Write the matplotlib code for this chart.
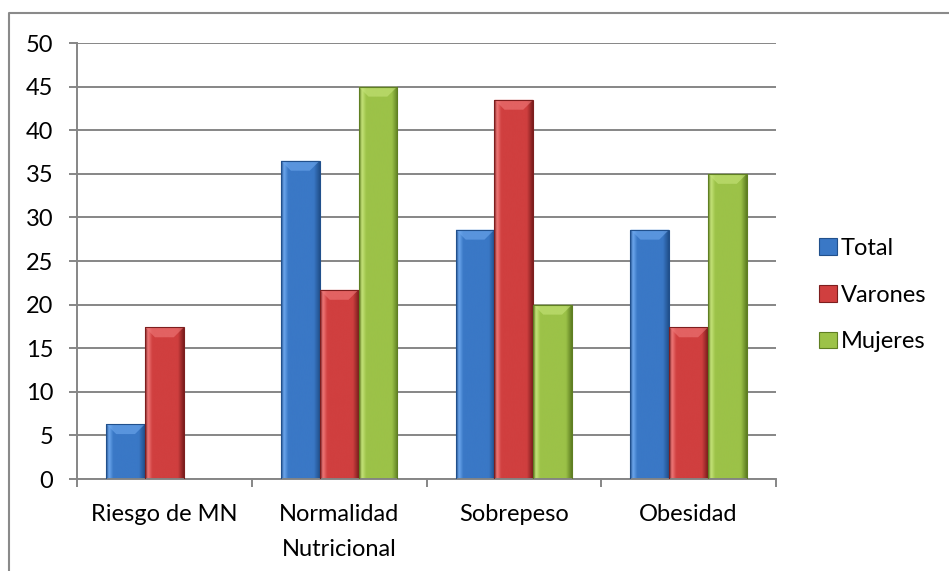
import numpy as np
import matplotlib
matplotlib.use("Agg")
import matplotlib.pyplot as plt
from matplotlib.colors import LinearSegmentedColormap
from matplotlib.lines import Line2D
from matplotlib.patches import Polygon, Rectangle

# porcentaje por estado nutricional
categories = ["Riesgo de MN", "Normalidad\nNutricional", "Sobrepeso", "Obesidad"]
series = ["Total", "Varones", "Mujeres"]
total = [6.3, 36.5, 28.6, 28.6]
varones = [17.4, 21.7, 43.5, 17.4]
mujeres = [0, 45, 20, 35]
yticks = list(range(0, 55, 5))

# (borde, base, claro) for each series
palette = {
    "Total": ("#21508c", "#3a78c6", "#6ea8ee"),
    "Varones": ("#7d1e1e", "#d03f3f", "#ef7a7a"),
    "Mujeres": ("#5f7f22", "#9cc248", "#c6e47a"),
}

plt.rcParams["font.family"] = ["Lato", "DejaVu Sans"]
FS = 17
W, H, DPI = 949, 571, 100
fig = plt.figure(figsize=(W / DPI, H / DPI), dpi=DPI)
ax = fig.add_axes([77 / W, 1 - 479 / H, 699 / W, 436 / H])

x = np.arange(len(categories))
bw = 0.222
ax.set_xlim(-0.5, len(categories) - 0.5)
ax.set_ylim(0, 50)


def shade_bar(rect, dark, base, light):
    """Excel-like bevel: horizontal gradient plus a lighter chamfer on top."""
    x0, w, h = rect.get_x(), rect.get_width(), rect.get_height()
    if h <= 0:
        return
    cmap = LinearSegmentedColormap.from_list(
        "b", [(0, dark), (0.07, light), (0.18, base), (0.85, base), (1, dark)])
    grad = np.linspace(0, 1, 64).reshape(1, -1)
    im = ax.imshow(grad, cmap=cmap, aspect="auto", extent=(x0, x0 + w, 0, h),
                   zorder=2, interpolation="bicubic")
    im.set_clip_path(rect)
    # chamfer depth: ~10 px in both directions
    dx = 10 / 174.75
    dy = min(10 / 8.72, h)
    top = Polygon([(x0, h), (x0 + w, h), (x0 + w - dx, h - dy), (x0 + dx, h - dy)],
                  closed=True, facecolor=light, edgecolor="none", alpha=0.6, zorder=3)
    ax.add_patch(top)
    ax.add_patch(Rectangle((x0, 0), w, h, facecolor="none", edgecolor=dark,
                           lw=0.8, zorder=4))


for i, (name, vals) in enumerate(zip(series, [total, varones, mujeres])):
    dark, base, light = palette[name]
    bars = ax.bar(x + (i - 1) * bw, vals, bw, color=base, edgecolor="none",
                  label=name, zorder=2)
    for b in bars:
        shade_bar(b, dark, base, light)

grid_c = "#868686"
ax.set_yticks(yticks)
ax.yaxis.grid(True, color=grid_c, lw=1.4, zorder=0)
ax.set_axisbelow(True)
ax.set_xticks(x)
ax.set_xticklabels(categories, fontsize=FS, linespacing=1.8)
ax.set_xticks(np.arange(-0.5, len(categories)), minor=True)
ax.tick_params(axis="x", which="major", length=0, pad=18)
ax.tick_params(axis="x", which="minor", length=6, width=1.4, color=grid_c)
ax.tick_params(axis="y", length=6, width=1.4, color=grid_c, pad=11, labelsize=FS)
for s in ("top", "right"):
    ax.spines[s].set_visible(False)
for s in ("left", "bottom"):
    ax.spines[s].set_color(grid_c)
    ax.spines[s].set_linewidth(1.4)

handles = [Rectangle((0, 0), 1, 1, facecolor=palette[n][1], edgecolor=palette[n][0], lw=0.8)
           for n in series]
fig.legend(handles, series, loc="center left", bbox_to_anchor=(810 / W, 1 - 295 / H),
           frameon=False, fontsize=FS, handlelength=0.75, handleheight=0.7,
           handletextpad=0.15, labelspacing=1.1, borderaxespad=0)

# outer chart frame
fc = "#8a8a8a"
fig.add_artist(Line2D([8.5 / W, 8.5 / W, 1], [0, 1 - 13 / H, 1 - 13 / H],
                      transform=fig.transFigure, color=fc, lw=1.5))

fig.savefig("out.png", dpi=DPI)
